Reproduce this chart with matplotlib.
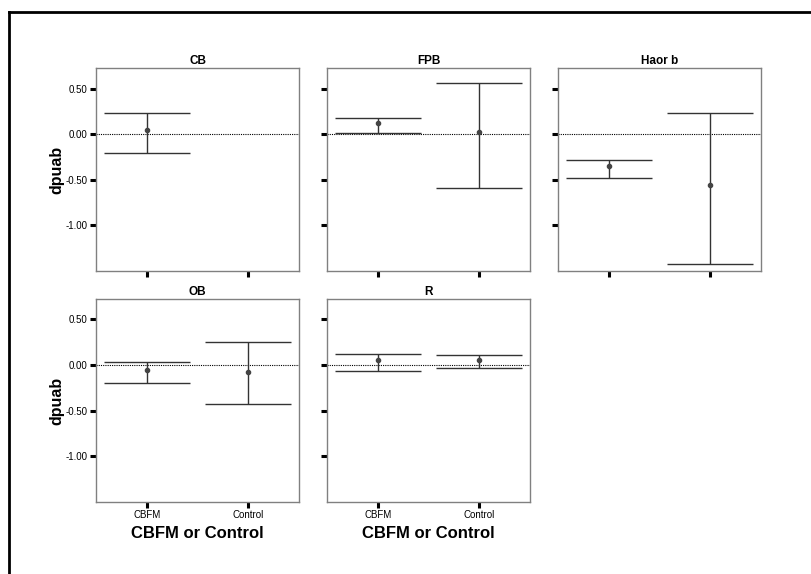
import matplotlib
matplotlib.use("Agg")
import matplotlib.pyplot as plt
from matplotlib.lines import Line2D

plt.rcParams['font.family'] = ['Liberation Sans', 'DejaVu Sans']

groups = ["CBFM", "Control"]
panels = ["CB", "FPB", "Haor b", "OB", "R"]
# mean, upper and lower CI per panel, per group (None = no data)
means = {"CB": [0.05, None], "FPB": [0.13, 0.03], "Haor b": [-0.35, -0.56],
         "OB": [-0.055, -0.077], "R": [0.055, 0.055]}
upper = {"CB": [0.237, None], "FPB": [0.186, 0.566], "Haor b": [-0.284, 0.237],
         "OB": [0.028, 0.247], "R": [0.12, 0.105]}
lower = {"CB": [-0.208, None], "FPB": [0.019, -0.583], "Haor b": [-0.474, -1.419],
         "OB": [-0.197, -0.431], "R": [-0.066, -0.037]}
yticks = [0.5, 0.0, -0.5, -1.0]

W, H = 811, 574
fig = plt.figure(figsize=(W / 100, H / 100), dpi=100)

# outer frame (top and left edges only)
fig.add_artist(Line2D([9 / W, 9 / W], [0, 1 - 12 / H], color='black', lw=2))
fig.add_artist(Line2D([9 / W, 1], [1 - 12 / H, 1 - 12 / H], color='black', lw=2))

lefts = [96, 327, 558]
tops = [68, 299]
pw, ph = 203, 203

for k, name in enumerate(panels):
    row, col = divmod(k, 3)
    x0, y0 = lefts[col], tops[row]
    ax = fig.add_axes([x0 / W, 1 - (y0 + ph) / H, pw / W, ph / H])
    ax.set_xlim(-0.5, 1.5)
    ax.set_ylim(-1.5, 0.73 if row == 0 else 0.72)
    ax.axhline(0, color='black', lw=0.8, ls=(0, (1, 1)))
    for i in range(2):
        m = means[name][i]
        if m is None:
            continue
        ax.errorbar([i], [m], yerr=[[m - lower[name][i]], [upper[name][i] - m]],
                    fmt='o', ms=3, color='#444444', ecolor='#333333',
                    elinewidth=1, capsize=31, capthick=1)
    for s in ax.spines.values():
        s.set_color('#808080')
        s.set_linewidth(1)
    ax.set_xticks([0, 1])
    ax.set_yticks(yticks)
    ax.tick_params(length=4, width=2.2, color='black', labelsize=7, pad=2)
    ax.set_title(name, fontsize=8.5, fontweight='bold', pad=3)
    if col == 0:
        ax.set_yticklabels(["0.50", "0.00", "-0.50", "-1.00"])
        ax.set_ylabel("dpuab", fontsize=11.5, fontweight='bold', labelpad=1)
    else:
        ax.set_yticklabels([])
    if row == 1:
        ax.set_xticklabels(groups)
        ax.set_xlabel("CBFM or Control", fontsize=12, fontweight='bold', labelpad=4)
    else:
        ax.set_xticklabels([])

fig.savefig("out.png", dpi=100)
